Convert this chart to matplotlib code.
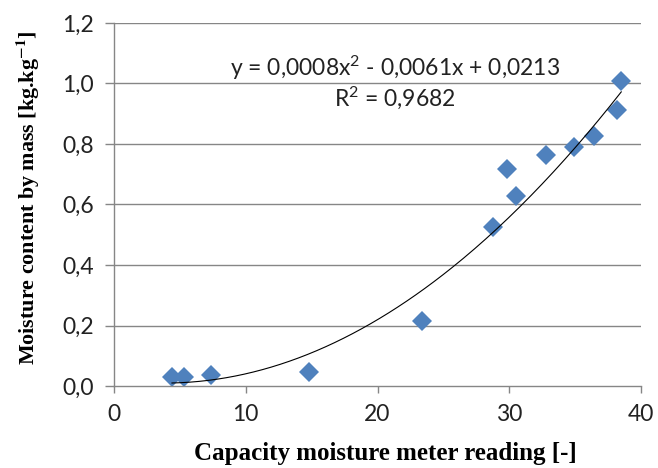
import numpy as np
import matplotlib
matplotlib.use("Agg")
import matplotlib.pyplot as plt
from matplotlib.ticker import FuncFormatter

# Capacity meter readings and gravimetric moisture content
meter_reading = [4.4, 5.3, 7.4, 14.8, 23.4, 28.8, 29.8, 30.5, 32.8, 34.9, 36.4, 38.2, 38.5]
moisture = [0.031, 0.031, 0.035, 0.047, 0.216, 0.526, 0.719, 0.629, 0.763, 0.791, 0.828, 0.914, 1.008]

# Second-order polynomial trendline coefficients (a*x^2 + b*x + c)
trend_coef = [0.0008, -0.0061, 0.0213]
r_squared = 0.9682

x_ticks = [0, 10, 20, 30, 40]
y_ticks = [0.0, 0.2, 0.4, 0.6, 0.8, 1.0, 1.2]

plt.rcParams['mathtext.fontset'] = 'custom'
plt.rcParams['mathtext.rm'] = 'Lato'
plt.rcParams['mathtext.it'] = 'Lato:italic'
plt.rcParams['mathtext.bf'] = 'Lato:bold'

fig = plt.figure(figsize=(6.58, 4.68), dpi=100)
ax = fig.add_axes([114 / 658, 1 - 386 / 468, (641 - 114) / 658, (386 - 23) / 468])

grid_color = '#868686'
for yv in y_ticks[1:]:
    ax.axhline(yv, color=grid_color, lw=1.0, zorder=0)

ax.plot(meter_reading, moisture, linestyle='none', marker='D', markersize=10.5,
        color='#4F81BD', markeredgewidth=0, zorder=2)

xs = np.linspace(min(meter_reading), max(meter_reading), 200)
ax.plot(xs, np.polyval(trend_coef, xs), color='black', lw=0.8, zorder=3)

def comma(v, pos=None, digits=1):
    return f"{v:.{digits}f}".replace('.', ',')

eq_text = (f"y = {comma(trend_coef[0], digits=4)}x$^{{\\mathrm{{2}}}}$ - "
           f"{comma(-trend_coef[1], digits=4)}x + {comma(trend_coef[2], digits=4)}")
ax.text(21.3, 1.052, eq_text, ha='center', va='center', fontsize=16.5, family='Lato',
        color='#222222')
ax.text(21.3, 0.952, f"R$^{{\\mathrm{{2}}}}$ = {comma(r_squared, digits=4)}", ha='center',
        va='center', fontsize=16.5, family='Lato', color='#222222')

ax.set_xlim(0, 40)
ax.set_ylim(0, 1.2)
ax.set_xticks(x_ticks)
ax.set_yticks(y_ticks)
ax.yaxis.set_major_formatter(FuncFormatter(lambda v, p: comma(v)))
ax.xaxis.set_major_formatter(FuncFormatter(lambda v, p: f"{v:.0f}"))

for side in ['top', 'right']:
    ax.spines[side].set_visible(False)
for side in ['left', 'bottom']:
    ax.spines[side].set_color(grid_color)
    ax.spines[side].set_linewidth(1.0)

ax.tick_params(axis='both', colors=grid_color, width=1.0, labelsize=16.5,
               labelcolor='#222222')
ax.tick_params(axis='y', length=6.5, pad=8)
ax.tick_params(axis='x', length=5, pad=8)
for lbl in ax.get_xticklabels() + ax.get_yticklabels():
    lbl.set_family('Lato')

ax.set_xlabel('Capacity moisture meter reading [-]', family='Liberation Serif',
              fontweight='bold', fontsize=18, va='center')
ax.xaxis.set_label_coords(0.514, -0.185)
ylab = ax.set_ylabel(r'Moisture content by mass [kg.kg$^{\mathbf{-1}}$]',
                     family='Liberation Serif', fontweight='bold', fontsize=15.8, va='center')
ylab.set_math_fontfamily('stix')
ax.yaxis.set_label_coords(-0.163, 0.519)

fig.savefig('out.png', dpi=100)
